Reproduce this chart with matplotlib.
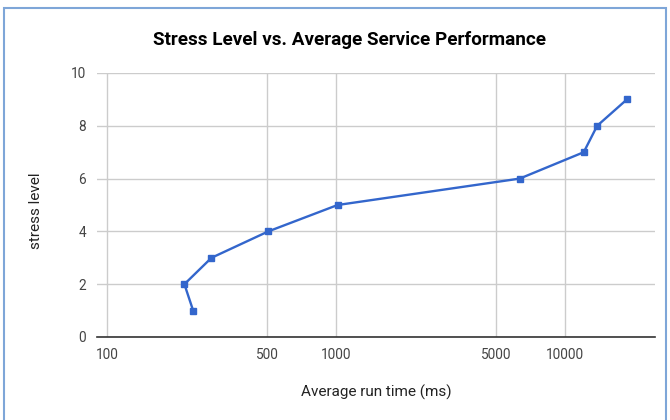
import matplotlib
matplotlib.use("Agg")
import matplotlib.pyplot as plt
from matplotlib.patches import Rectangle
from matplotlib.ticker import FixedLocator, FixedFormatter, NullLocator

run_time_ms = [237, 217, 285, 505, 1015, 6350, 12100, 13850, 18700]
stress_level = [1, 2, 3, 4, 5, 6, 7, 8, 9]
x_ticks = [100, 500, 1000, 5000, 10000]
x_tick_labels = ["100", "500", "1000", "5000", "10000"]
y_ticks = [0, 2, 4, 6, 8, 10]

plt.rcParams['font.family'] = ['Roboto', 'DejaVu Sans']

fig = plt.figure(figsize=(6.7, 4.2), dpi=100)
ax = fig.add_axes([97/670, 1 - 337/420, (655-97)/670, (337-73)/420])

ax.set_xscale('log')
ax.set_xlim(90, 24800)
ax.set_ylim(0, 10)

ax.xaxis.set_major_locator(FixedLocator(x_ticks))
ax.xaxis.set_major_formatter(FixedFormatter(x_tick_labels))
ax.xaxis.set_minor_locator(NullLocator())
ax.set_yticks(y_ticks)

ax.grid(True, color='#cccccc', linewidth=1.0)
ax.set_axisbelow(True)
for s in ['top', 'right', 'left']:
    ax.spines[s].set_visible(False)
ax.spines['bottom'].set_color('#333333')
ax.spines['bottom'].set_linewidth(1.2)
ax.tick_params(axis='both', length=0, labelsize=9.8, labelcolor='#444444')
ax.tick_params(axis='x', pad=8)
ax.tick_params(axis='y', pad=8)

ax.plot(run_time_ms, stress_level, color='#3366cc', linewidth=1.7,
        marker='s', markersize=4.8, clip_on=False, zorder=3)

fig.text(350/670, 1 - 40/420, 'Stress Level vs. Average Service Performance',
         ha='center', va='center', fontsize=13.6, fontweight='bold', color='#000000')
fig.text(376/670, 1 - 392/420, 'Average run time (ms)', ha='center', va='center',
         fontsize=11, color='#222222')
fig.text(36/670, 1 - 211/420, 'stress level', ha='center', va='center',
         rotation=90, fontsize=11, color='#222222')

fig.patches.append(Rectangle((4/670, -0.1), (666-4)/670, 1.1 - 8/420,
                             transform=fig.transFigure, fill=False,
                             edgecolor='#7ea6d8', linewidth=1.5))

fig.savefig('out.png', dpi=100)
